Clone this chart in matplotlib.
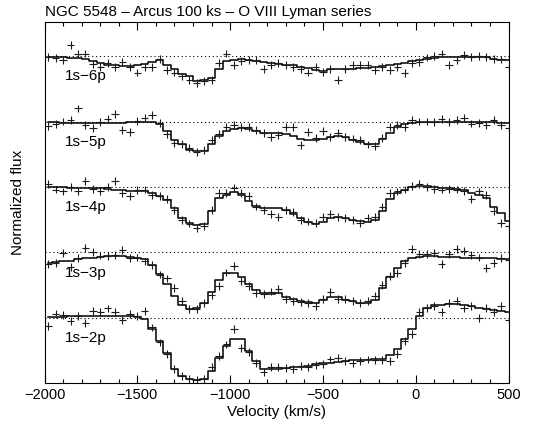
import numpy as np
import matplotlib
matplotlib.use("Agg")
import matplotlib.pyplot as plt
from matplotlib.ticker import MultipleLocator

plt.rcParams['font.family'] = ['Liberation Sans', 'DejaVu Sans']

# velocity bin centres (km/s), 40 km/s bins
vel = np.arange(-1980, 501, 40)

# model (step) and data, normalised flux, one list per line
model_2p = [1.005, 1.01, 1.015, 1.02, 1.025, 1.025, 1.03, 1.03, 1.03, 1.025, 1.025, 1.02, 1.01,
            0.975, 0.83, 0.645, 0.455, 0.21, 0.10, 0.06, 0.05, 0.06, 0.185, 0.39, 0.57, 0.68,
            0.67, 0.49, 0.34, 0.21, 0.21, 0.22, 0.23, 0.24, 0.25, 0.265, 0.285, 0.30, 0.31,
            0.32, 0.335, 0.345, 0.35, 0.355, 0.36, 0.365, 0.425, 0.515, 0.67, 0.82, 1.025,
            1.14, 1.19, 1.20, 1.21, 1.21, 1.195, 1.175, 1.155, 1.13, 1.11, 1.10, 1.09]
data_2p = [0.87, 1.05, 1.04, 0.95, 1.03, 0.92, 1.10, 1.09, 1.14, 1.08, 0.97, 1.05, 1.03,
           1.10, 0.85, 0.62, 0.44, 0.21, 0.11, 0.06, 0.05, 0.06, 0.25, 0.41, 0.59, 0.82,
           0.54, 0.47, 0.31, 0.17, 0.24, 0.24, 0.23, 0.22, 0.26, 0.25, 0.27, 0.29, 0.36,
           0.39, 0.34, 0.30, 0.34, 0.36, 0.35, 0.35, 0.34, 0.44, 0.64, 0.75, 1.08, 1.15,
           1.18, 1.08, 1.23, 1.25, 1.15, 1.18, 1.00, 1.15, 1.08, 1.18, 0.97]

model_3p = [0.84, 0.85, 0.86, 0.87, 0.89, 0.91, 0.92, 0.93, 0.94, 0.94, 0.94, 0.935, 0.92,
            0.89, 0.80, 0.67, 0.52, 0.33, 0.19, 0.135, 0.14, 0.23, 0.40, 0.58, 0.68, 0.69,
            0.62, 0.52, 0.42, 0.37, 0.36, 0.37, 0.32, 0.28, 0.25, 0.24, 0.23, 0.27, 0.32,
            0.31, 0.27, 0.25, 0.22, 0.22, 0.27, 0.45, 0.62, 0.76, 0.86, 0.91, 0.935, 0.94,
            0.94, 0.935, 0.93, 0.925, 0.92, 0.915, 0.91, 0.91, 0.905, 0.90, 0.90]
data_3p = [0.82, 0.84, 0.99, 0.77, 0.91, 1.06, 1.00, 0.95, 0.94, 0.96, 1.03, 0.91, 0.92,
           0.86, 0.80, 0.66, 0.60, 0.46, 0.25, 0.13, 0.13, 0.23, 0.35, 0.48, 0.69, 0.79,
           0.56, 0.48, 0.38, 0.36, 0.40, 0.44, 0.28, 0.25, 0.24, 0.22, 0.18, 0.29, 0.39,
           0.29, 0.28, 0.25, 0.23, 0.25, 0.33, 0.50, 0.64, 0.68, 0.84, 1.05, 0.97, 0.98,
           0.99, 0.82, 0.97, 1.05, 1.02, 0.96, 0.92, 0.76, 0.84, 0.91, 0.88]

model_4p = [1.00, 1.00, 0.995, 0.99, 0.99, 0.985, 0.985, 0.98, 0.97, 0.96, 0.95, 0.94, 0.935,
            0.93, 0.90, 0.86, 0.80, 0.67, 0.52, 0.45, 0.41, 0.43, 0.63, 0.83, 0.88, 0.915,
            0.88, 0.79, 0.71, 0.68, 0.67, 0.67, 0.65, 0.59, 0.52, 0.46, 0.43, 0.46, 0.53,
            0.54, 0.52, 0.50, 0.48, 0.46, 0.50, 0.63, 0.82, 0.91, 0.96, 1.00, 1.02, 1.01,
            1.00, 0.99, 0.98, 0.97, 0.95, 0.91, 0.88, 0.83, 0.70, 0.60, 0.48]
data_4p = [1.04, 0.96, 0.93, 1.00, 0.93, 1.09, 0.97, 0.93, 1.00, 1.09, 0.91, 0.86, 0.95,
           0.96, 0.88, 0.86, 0.81, 0.65, 0.50, 0.44, 0.37, 0.40, 0.65, 0.91, 0.91, 0.98,
           0.91, 0.86, 0.70, 0.65, 0.58, 0.54, 0.65, 0.61, 0.50, 0.47, 0.45, 0.54, 0.59,
           0.54, 0.52, 0.50, 0.45, 0.53, 0.54, 0.70, 0.91, 0.93, 0.96, 1.01, 1.04, 1.00,
           0.97, 0.96, 0.97, 0.96, 0.94, 0.81, 0.93, 0.88, 0.63, 0.45, 0.40]

model_5p = [0.99, 0.99, 0.985, 0.985, 0.98, 0.98, 0.975, 0.975, 0.975, 0.98, 0.985, 0.99, 1.00,
            1.00, 0.995, 0.97, 0.86, 0.72, 0.66, 0.57, 0.545, 0.55, 0.66, 0.78, 0.86, 0.89,
            0.90, 0.88, 0.85, 0.83, 0.82, 0.82, 0.81, 0.78, 0.74, 0.72, 0.72, 0.74, 0.77,
            0.78, 0.76, 0.72, 0.68, 0.66, 0.65, 0.74, 0.83, 0.92, 0.96, 0.98, 0.99, 1.00,
            1.00, 1.00, 1.00, 1.00, 0.995, 0.99, 0.99, 0.99, 0.99, 0.985, 0.985]
data_5p = [0.93, 0.96, 1.00, 1.02, 1.20, 0.95, 0.90, 0.99, 1.04, 1.12, 0.87, 0.84, 1.01,
           1.06, 1.10, 0.98, 0.81, 0.67, 0.66, 0.59, 0.54, 0.57, 0.72, 0.81, 0.92, 0.95,
           0.92, 0.92, 0.87, 0.82, 0.77, 0.80, 0.92, 0.92, 0.64, 0.84, 0.75, 0.85, 0.77,
           0.83, 0.77, 0.74, 0.72, 0.65, 0.62, 0.75, 0.92, 0.95, 0.92, 1.03, 1.00, 1.00,
           0.99, 1.04, 0.99, 1.03, 1.06, 0.97, 0.98, 0.95, 1.02, 0.95, 0.90]

model_6p = [0.99, 0.985, 0.98, 0.975, 0.965, 0.95, 0.92, 0.89, 0.87, 0.86, 0.855, 0.855, 0.86,
            0.88, 0.91, 0.94, 0.87, 0.80, 0.72, 0.69, 0.62, 0.64, 0.66, 0.80, 0.92, 0.94,
            0.95, 0.94, 0.93, 0.91, 0.89, 0.88, 0.87, 0.86, 0.84, 0.82, 0.79, 0.78, 0.80,
            0.81, 0.81, 0.81, 0.82, 0.82, 0.84, 0.85, 0.87, 0.88, 0.90, 0.92, 0.94, 0.95,
            0.965, 0.98, 0.98, 0.985, 0.99, 0.99, 0.985, 0.98, 0.95, 0.945, 0.94]
data_6p = [0.99, 0.97, 0.94, 1.17, 1.04, 1.04, 0.88, 0.84, 0.89, 0.84, 0.91, 0.84, 0.75,
           0.84, 0.84, 0.96, 0.79, 0.75, 0.69, 0.64, 0.59, 0.62, 0.64, 0.89, 1.04, 0.86,
           0.93, 0.94, 0.94, 0.81, 0.86, 0.89, 0.86, 0.84, 0.81, 0.75, 0.84, 0.76, 0.81,
           0.64, 0.81, 0.86, 0.86, 0.86, 0.79, 0.84, 0.79, 0.84, 0.74, 0.89, 0.91, 0.98,
           1.00, 1.04, 0.86, 0.94, 1.02, 0.99, 1.00, 0.99, 0.96, 0.95, 0.84]

labels = ['1s\u22122p', '1s\u22123p', '1s\u22124p', '1s\u22125p', '1s\u22126p']
models = [model_2p, model_3p, model_4p, model_5p, model_6p]
datas = [data_2p, data_3p, data_4p, data_5p, data_6p]
offsets = [0, 1, 2, 3, 4]
yerr = 0.06

fig = plt.figure(figsize=(5.45, 4.25), dpi=100)
ax = fig.add_axes([0.0817, 0.0988, 0.8515, 0.8505])

for lab, mod, dat, off in zip(labels, models, datas, offsets):
    mod = np.array(mod) + off
    dat = np.array(dat) + off
    ax.plot([-2000, 500], [off + 1, off + 1], color='black', lw=0.8,
            ls=(0, (1, 2.5)))
    ax.step(vel, mod, where='mid', color='black', lw=1.1)
    ax.errorbar(vel, dat, xerr=20, yerr=yerr, fmt='none', ecolor='0.1',
                elinewidth=0.8, capsize=0)
    ax.text(-1890, off + 0.69, lab, fontsize=11, ha='left', va='center')

ax.set_xlim(-2000, 500)
ax.set_ylim(0, 5.53)
ax.xaxis.set_major_locator(MultipleLocator(500))
ax.xaxis.set_minor_locator(MultipleLocator(100))
ax.tick_params(axis='x', which='both', direction='in', top=True, labelsize=10.5)
ax.tick_params(axis='x', which='major', length=6, width=0.8)
ax.tick_params(axis='x', which='minor', length=3, width=0.8)
ax.set_yticks([])
for s in ax.spines.values():
    s.set_linewidth(0.8)

ax.set_xlabel('Velocity (km/s)', fontsize=11, labelpad=2)
ax.set_ylabel('Normalized flux', fontsize=11, labelpad=14)
ax.set_title('NGC 5548 \u2013 Arcus 100 ks \u2013 O VIII Lyman series',
             fontsize=11, loc='left', pad=4)

plt.savefig('out.png', dpi=100)
